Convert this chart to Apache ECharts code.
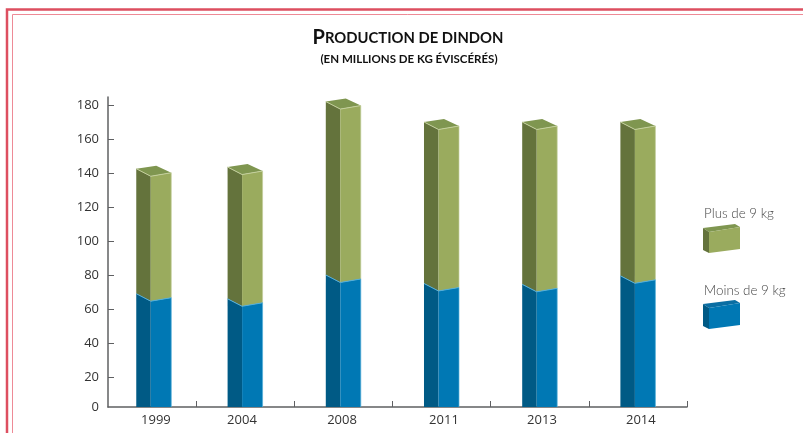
<!DOCTYPE html>
<html>
<head>
<meta charset="utf-8">
<title>Production de dindon</title>
<style>
  html, body { margin: 0; padding: 0; background: #fff; }
  #chart { width: 803px; height: 433px; }
</style>
<script src="https://cdn.jsdelivr.net/npm/echarts@6/dist/echarts.min.js"></script>
</head>
<body>
<div id="chart"></div>
<script>
var years = ['1999', '2004', '2008', '2011', '2013', '2014']
var moins9 = [69, 66, 80, 75, 74.5, 79.5]
var plus9 = [73.5, 77.5, 102, 95, 95.5, 90.5]
var yTicks = [20, 40, 60, 80, 100, 120, 140, 160, 180]

// the value axis starts a little above 0 in the original, its "0" sits on the x axis line
var yMin = 2.35
var yMax = 184.7
var xMin = 0.104
var xMax = 6
var barSlots = [0.57, 1.5, 2.5, 3.5, 4.5, 5.5]
var labelSlots = [0.592, 1.468, 2.487, 3.525, 4.523, 5.53]

var green = { front: '#9aab5e', side: '#64733c', top: '#7f9650', edge: '#c3cf9c' }
var blue = { front: '#0078b4', side: '#005a85', edge: '#55afd8' }

function bar3d (colors, withTop) {
  return function (params, api) {
    var start = api.coord([api.value(0), api.value(1)])
    var end = api.coord([api.value(0), api.value(2)])
    var x = start[0] - 17.5
    var yb = api.value(1) === yMin ? null : start[1]
    var yt = end[1]
    // bottom of the first stack stays flat on the axis
    var bot = function (dy) { return yb === null ? start[1] : yb + dy }
    var kids = [
      { type: 'polygon', shape: { points: [[x, yt], [x + 14.5, yt + 7.5], [x + 14.5, bot(7.5)], [x, bot(0)]] }, style: { fill: colors.side } },
      { type: 'polygon', shape: { points: [[x + 14.5, yt + 7.5], [x + 35, yt + 4], [x + 35, bot(4)], [x + 14.5, bot(7.5)]] }, style: { fill: colors.front } },
      { type: 'polyline', shape: { points: [[x, yt], [x + 14.5, yt + 7.5], [x + 35, yt + 4]] }, style: { fill: null, stroke: colors.edge, lineWidth: 1 } },
      { type: 'line', shape: { x1: x + 35, y1: yt + 4, x2: x + 35, y2: bot(4) }, style: { stroke: colors.edge, lineWidth: 0.7 } }
    ]
    if (withTop) {
      kids.unshift({ type: 'polygon', shape: { points: [[x, yt], [x + 20, yt - 3], [x + 35, yt + 4], [x + 14.5, yt + 7.5]] }, style: { fill: colors.top } })
    }
    return { type: 'group', children: kids }
  }
}

function legendBox (y, colors, topColor) {
  var pts = { l: [703, y], b: [735, y - 4], r: [740, y - 1], m: [709, y + 4] }
  return [
    { type: 'polygon', shape: { points: [pts.l, pts.b, pts.r, pts.m] }, style: { fill: topColor } },
    { type: 'polygon', shape: { points: [pts.l, pts.m, [709, y + 25], [703, y + 22]] }, style: { fill: colors.side } },
    { type: 'polygon', shape: { points: [pts.m, pts.r, [740, y + 21], [709, y + 25]] }, style: { fill: colors.front } }
  ]
}

var lowData = years.map(function (y, i) { return [barSlots[i], yMin, moins9[i]] })
var highData = years.map(function (y, i) { return [barSlots[i], moins9[i], moins9[i] + plus9[i]] })

var axisColor = '#5f6062'
var myChart = echarts.init(document.getElementById('chart'))
myChart.setOption({
  animation: false,
  title: [
    {
      text: '{a|P}{b|RODUCTION DE DINDON}',
      left: 403,
      top: 23,
      textAlign: 'center',
      textStyle: {
        rich: {
          a: { fontFamily: 'Lato', fontSize: 20, fontWeight: 700, color: '#111' },
          b: { fontFamily: 'Lato', fontSize: 14.8, fontWeight: 700, color: '#111' }
        }
      }
    },
    {
      text: '(EN MILLIONS DE KG ÉVISCÉRÉS)',
      left: 404,
      top: 48,
      textAlign: 'center',
      textStyle: { fontFamily: 'Lato', fontSize: 11.5, fontWeight: 700, color: '#111' }
    }
  ],
  grid: { left: 108, right: 116, top: 97, bottom: 26 },
  xAxis: {
    type: 'value',
    min: xMin,
    max: xMax,
    splitLine: { show: false },
    axisLine: { onZero: false, lineStyle: { color: axisColor, width: 1.5 } },
    axisTick: { show: true, inside: true, length: 6, customValues: [1, 2, 3, 4, 5, 6], lineStyle: { color: axisColor, width: 1 } },
    axisLabel: {
      customValues: labelSlots,
      margin: 7,
      fontFamily: 'Open Sans',
      fontSize: 13,
      color: '#333',
      formatter: function (v) { return years[labelSlots.indexOf(v)] }
    }
  },
  yAxis: {
    type: 'value',
    min: yMin,
    max: yMax,
    splitLine: { show: false },
    axisLine: { show: true, onZero: false, lineStyle: { color: axisColor, width: 1.5 } },
    axisTick: { show: true, inside: true, length: 6, customValues: yTicks, lineStyle: { color: axisColor, width: 1 } },
    axisLabel: {
      customValues: [yMin].concat(yTicks),
      margin: 9,
      padding: [0, 0, 4, 0],
      fontFamily: 'Open Sans',
      fontSize: 13,
      color: '#333',
      formatter: function (v) { return v === yMin ? '0' : String(v) }
    }
  },
  series: [
    { name: 'Plus de 9 kg', type: 'custom', renderItem: bar3d(green, true), encode: { x: 0, y: 2 }, data: highData },
    { name: 'Moins de 9 kg', type: 'custom', renderItem: bar3d(blue, false), encode: { x: 0, y: 2 }, data: lowData }
  ],
  graphic: [
    // double frame, open on the right and at the bottom
    { type: 'polyline', silent: true, shape: { points: [[7, 433], [7, 9.5], [803, 9.5]] }, style: { fill: null, stroke: '#dd4f60', lineWidth: 2.5 } },
    { type: 'polyline', silent: true, shape: { points: [[12.5, 433], [12.5, 14.5], [803, 14.5]] }, style: { fill: null, stroke: '#ee8a96', lineWidth: 1 } },
    { type: 'text', left: 704, top: 207, style: { text: 'Plus de 9 kg', fontFamily: 'Lato', fontWeight: 300, fontSize: 13.4, fill: '#444' } },
    { type: 'text', left: 704, top: 284, style: { text: 'Moins de 9 kg', fontFamily: 'Lato', fontWeight: 300, fontSize: 13.4, fill: '#444' } },
    { type: 'group', silent: true, children: legendBox(228, green, green.top).concat(legendBox(304, blue, '#0a6ea3')) }
  ]
})
</script>
</body>
</html>
